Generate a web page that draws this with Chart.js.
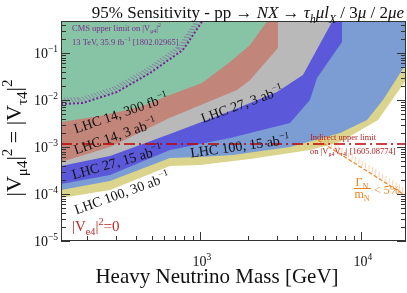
<!DOCTYPE html>
<html>
<head>
<meta charset="utf-8">
<script src="https://cdn.jsdelivr.net/npm/chart.js@4.4.0/dist/chart.umd.min.js"></script>
<style>
  html, body { margin: 0; padding: 0; background: #fff; }
  canvas { display: block; }
</style>
</head>
<body>
<canvas id="chart" width="407" height="293"></canvas>
<script>
// axis ticks
const massTicks = [1000, 10000];
const couplingTicks = [1e-5, 1e-4, 1e-3, 1e-2, 1e-1];

// lower edges of the sensitivity regions (mass in GeV, |V|^2)
const lhc14_300fb_mass = [137, 239, 424, 651, 1029, 1536, 2046, 2644];
const lhc14_300fb_v2   = [0.0034, 0.00457, 0.0071, 0.0128, 0.023, 0.0644, 0.148, 0.5];

const lhc14_3ab_mass = [137, 276, 651, 1698, 2046, 3051, 3051];
const lhc14_3ab_v2   = [0.00048, 0.001, 0.0042, 0.0163, 0.0266, 0.128, 0.5];

const lhc27_3ab_mass = [137, 276, 651, 1603, 3006, 4362, 6698];
const lhc27_3ab_v2   = [0.000394, 0.000644, 0.00189, 0.00612, 0.0148, 0.034, 0.5];

const lhc27_15ab_mass = [137, 276, 651, 1536, 3622, 4820, 5332, 7620, 7620];
const lhc27_15ab_v2   = [0.000163, 0.000254, 0.000863, 0.00155, 0.00324, 0.01, 0.0294, 0.171, 0.5];

const lhc100_15ab_mass = [137, 276, 651, 1000, 1603, 3622, 7410, 10900, 13700, 19040];
const lhc100_15ab_v2   = [0.000122, 0.000189, 0.000583, 0.000613, 0.000676, 0.001, 0.00199, 0.00375, 0.01, 0.0583];

const lhc100_30ab_mass = [137, 276, 651, 1000, 2046, 3622, 4820, 7410, 12760, 15600, 19040];
const lhc100_30ab_v2   = [0.0000822, 0.000122, 0.000394, 0.000414, 0.000556, 0.000745, 0.000863, 0.00128, 0.00375, 0.01, 0.0266];

// CMS 13 TeV limit
const cms_mass = [137, 187, 305, 489, 783, 1044];
const cms_v2   = [0.00822, 0.00863, 0.0148, 0.0375, 0.116, 0.5];

// indirect limit on |V_mu4 V_tau4|
const indirect_mass = [137, 19040];
const indirect_v2   = [0.00116, 0.00116];

// width constraint Gamma_N / m_N < 5%
const width_mass = [5410, 18750];
const width_v2   = [0.00141, 0.000095];

const SERIF = '"Liberation Serif", "Times New Roman", serif';

function pts(xs, ys) {
    return xs.map((x, i) => ({x: x, y: ys[i]}));
}

// rich text: parts = [[text, flags]] flags: i italic, b subscript, p superscript
function partFont(p, size) {
    const f = p[1] || '';
    const s = (f.includes('b') || f.includes('p')) ? size * 0.68 : size;
    return (f.includes('i') ? 'italic ' : '') + s.toFixed(1) + 'px ' + SERIF;
}
function richWidth(ctx, parts, size) {
    let w = 0;
    parts.forEach(p => { ctx.font = partFont(p, size); w += ctx.measureText(p[0]).width; });
    return w;
}
function drawRich(ctx, parts, x, y, size, align) {
    const w = richWidth(ctx, parts, size);
    let cx = align === 'center' ? x - w / 2 : align === 'right' ? x - w : x;
    ctx.textAlign = 'left';
    ctx.textBaseline = 'alphabetic';
    parts.forEach(p => {
        const f = p[1] || '';
        ctx.font = partFont(p, size);
        const dy = f.includes('b') ? size * 0.28 : f.includes('p') ? -size * 0.42 : 0;
        ctx.fillText(p[0], cx, y + dy);
        cx += ctx.measureText(p[0]).width;
    });
}
function drawRotated(ctx, parts, x, y, size, deg, color) {
    ctx.save();
    ctx.translate(x, y);
    ctx.rotate(deg * Math.PI / 180);
    ctx.fillStyle = color;
    drawRich(ctx, parts, 0, size * 0.33, size, 'center');
    ctx.restore();
}

// hatch ticks along a dataset line
function hatch(ctx, chart, idx, color, len, step, tilt, width) {
    const p = chart.getDatasetMeta(idx).data;
    ctx.save();
    ctx.beginPath();
    const a = chart.chartArea;
    ctx.rect(a.left, a.top, a.right - a.left, a.bottom - a.top);
    ctx.clip();
    ctx.strokeStyle = color;
    ctx.lineWidth = width;
    let carry = 0;
    for (let i = 0; i < p.length - 1; i++) {
        const dx = p[i + 1].x - p[i].x, dy = p[i + 1].y - p[i].y;
        const L = Math.hypot(dx, dy);
        if (L === 0) continue;
        const ux = dx / L, uy = dy / L;
        const nx = uy, ny = -ux;
        const c = Math.cos(tilt), s = Math.sin(tilt);
        const hx = nx * c - ux * s, hy = ny * c - uy * s;
        let t = carry;
        for (; t < L; t += step) {
            const x0 = p[i].x + ux * t, y0 = p[i].y + uy * t;
            ctx.beginPath();
            ctx.moveTo(x0 + hx * 1.5, y0 + hy * 1.5);
            ctx.lineTo(x0 + hx * len, y0 + hy * len);
            ctx.stroke();
        }
        carry = t - L;
    }
    ctx.restore();
}

const decor = {
    id: 'decor',
    beforeDraw(chart) {
        const ctx = chart.ctx;
        ctx.save();
        ctx.fillStyle = '#fff';
        ctx.fillRect(0, 0, chart.width, chart.height);
        ctx.restore();
    },
    afterDatasetsDraw(chart) {
        const ctx = chart.ctx;
        hatch(ctx, chart, 6, 'rgba(130,50,160,0.6)', 7, 3.2, 0.45, 0.8);
        hatch(ctx, chart, 8, 'rgba(240,130,40,0.45)', 7, 4, 0.5, 0.8);

        // band labels
        const k = '#111';
        drawRotated(ctx, [['LHC 14, 300 fb', ''], ['\u22121', 'p']], 121, 113, 14, -19, k);
        drawRotated(ctx, [['LHC 14, 3 ab', ''], ['\u22121', 'p']], 115, 136, 14, -19, k);
        drawRotated(ctx, [['LHC 27, 15 ab', ''], ['\u22121', 'p']], 117, 162, 14, -16, k);
        drawRotated(ctx, [['LHC 100, 30 ab', ''], ['\u22121', 'p']], 122, 193, 14, -20, k);
        drawRotated(ctx, [['LHC 27, 3 ab', ''], ['\u22121', 'p']], 242, 104, 14, -20, k);
        drawRotated(ctx, [['LHC 100, 15 ab', ''], ['\u22121', 'p']], 240, 146, 14, -8, k);

        // CMS note
        ctx.fillStyle = '#7b2d8e';
        drawRich(ctx, [['CMS upper limit on |V', ''], ['\u03bc4', 'b'], ['|', ''], ['2', 'p']], 72, 31, 8.5, 'left');
        drawRich(ctx, [['13 TeV, 35.9 fb', ''], ['\u22121', 'p'], [' [1802.02965]', '']], 72, 45, 8.5, 'left');

        // indirect limit note
        ctx.fillStyle = '#b02020';
        drawRich(ctx, [['Indirect upper limit', '']], 310, 140, 8.5, 'left');
        drawRich(ctx, [['on |V', ''], ['\u03bc4', 'b'], ['V', ''], ['\u03c44', 'b'], ['| [1605.08774]', '']], 310, 154, 8.5, 'left');

        // |Ve4|^2 = 0
        ctx.fillStyle = '#c0282a';
        drawRich(ctx, [['|V', ''], ['e4', 'b'], ['|', ''], ['2', 'p'], ['=0', '']], 72, 231, 15, 'left');

        // width constraint label
        ctx.fillStyle = '#f0821e';
        drawRich(ctx, [['\u0393', ''], ['N', 'b']], 362, 186, 12, 'center');
        ctx.fillRect(354, 188, 17, 1);
        drawRich(ctx, [['m', ''], ['N', 'b']], 362, 198, 12, 'center');
        drawRich(ctx, [['< 5%', '']], 374, 194, 12, 'left');
    },
    afterDraw(chart) {
        const ctx = chart.ctx;
        const a = chart.chartArea;
        const xs = chart.scales.x, ys = chart.scales.y;
        ctx.save();
        ctx.strokeStyle = '#333';
        ctx.lineWidth = 1;
        ctx.beginPath();
        // minor + major ticks, inside frame
        for (let d = -6; d <= 0; d++) {
            for (let m = 1; m <= 9; m++) {
                const v = m * Math.pow(10, d);
                if (v < ys.min || v > ys.max) continue;
                const py = Math.round(ys.getPixelForValue(v)) + 0.5;
                const len = m === 1 ? 9 : 5;
                ctx.moveTo(a.left, py); ctx.lineTo(a.left + len, py);
                ctx.moveTo(a.right, py); ctx.lineTo(a.right - len, py);
            }
        }
        for (let d = 2; d <= 4; d++) {
            for (let m = 1; m <= 9; m++) {
                const v = m * Math.pow(10, d);
                if (v < xs.min || v > xs.max) continue;
                const px = Math.round(xs.getPixelForValue(v)) + 0.5;
                const len = m === 1 ? 9 : 5;
                ctx.moveTo(px, a.bottom); ctx.lineTo(px, a.bottom - len);
            }
        }
        ctx.stroke();
        ctx.strokeRect(a.left + 0.5, a.top + 0.5, a.right - a.left - 1, a.bottom - a.top - 1);
        ctx.restore();

        // tick labels
        ctx.fillStyle = '#111';
        couplingTicks.forEach(v => {
            const e = Math.round(Math.log10(v));
            drawRich(ctx, [['10', ''], ['\u2212' + (-e), 'p']], a.left - 3, ys.getPixelForValue(v) + 5, 14, 'right');
        });
        massTicks.forEach(v => {
            const e = Math.round(Math.log10(v));
            drawRich(ctx, [['10', ''], [String(e), 'p']], xs.getPixelForValue(v) + 2, 266, 14, 'center');
        });

        // axis titles
        drawRich(ctx, [['Heavy Neutrino Mass [GeV]', '']], 217, 283, 21, 'center');
        ctx.save();
        ctx.translate(21, 138);
        ctx.rotate(-Math.PI / 2);
        drawRich(ctx, [['|V', ''], ['\u03bc4', 'b'], ['|', ''], ['2', 'p'], [' = |V', ''], ['\u03c44', 'b'], ['|', ''], ['2', 'p']], 0, 0, 22, 'center');
        ctx.restore();

        // title
        drawRich(ctx, [['95% Sensitivity - pp \u2192 ', ''], ['NX', 'i'], [' \u2192 ', ''], ['\u03c4', 'i'], ['h', 'ib'],
            ['\u03bcl', 'i'], ['X', 'ib'], [' / 3', ''], ['\u03bc', 'i'], [' / 2', ''], ['\u03bce', 'i']], 248, 18, 17, 'center');
    }
};

function band(xs, ys, color) {
    return {data: pts(xs, ys), backgroundColor: color, borderWidth: 0, pointRadius: 0, fill: 'end', tension: 0};
}

new Chart(document.getElementById('chart').getContext('2d'), {
    type: 'line',
    data: {
        datasets: [
            band(lhc14_300fb_mass, lhc14_300fb_v2, '#87c4a5'),
            band(lhc14_3ab_mass, lhc14_3ab_v2, '#c2857a'),
            band(lhc27_3ab_mass, lhc27_3ab_v2, '#b9b9b9'),
            band(lhc27_15ab_mass, lhc27_15ab_v2, '#5b58d9'),
            band(lhc100_15ab_mass, lhc100_15ab_v2, '#7b9dd4'),
            band(lhc100_30ab_mass, lhc100_30ab_v2, '#dad48c'),
            {data: pts(cms_mass, cms_v2), borderColor: '#7a1f9a', borderWidth: 2, borderDash: [2, 2],
             pointRadius: 0, fill: false, order: -1},
            {data: pts(indirect_mass, indirect_v2), borderColor: '#c00000', borderWidth: 1.6, borderDash: [11, 4, 2, 4],
             pointRadius: 0, fill: false, order: -1},
            {data: pts(width_mass, width_v2), borderColor: '#f0821e', borderWidth: 1.2, borderDash: [4, 2],
             pointRadius: 0, fill: false, order: -1}
        ]
    },
    options: {
        responsive: false,
        animation: false,
        devicePixelRatio: 1,
        layout: {padding: {top: 21, right: 1, left: 0, bottom: 0}},
        plugins: {legend: {display: false}, tooltip: {enabled: false}, title: {display: false}},
        scales: {
            x: {
                type: 'logarithmic', min: 137, max: 19040,
                ticks: {display: false}, grid: {display: false}, border: {display: false},
                afterFit: s => { s.height = 52; }
            },
            y: {
                type: 'logarithmic', min: 1e-5, max: 0.48,
                ticks: {display: false}, grid: {display: false}, border: {display: false},
                afterFit: s => { s.width = 61; }
            }
        }
    },
    plugins: [decor]
});
</script>
</body>
</html>
